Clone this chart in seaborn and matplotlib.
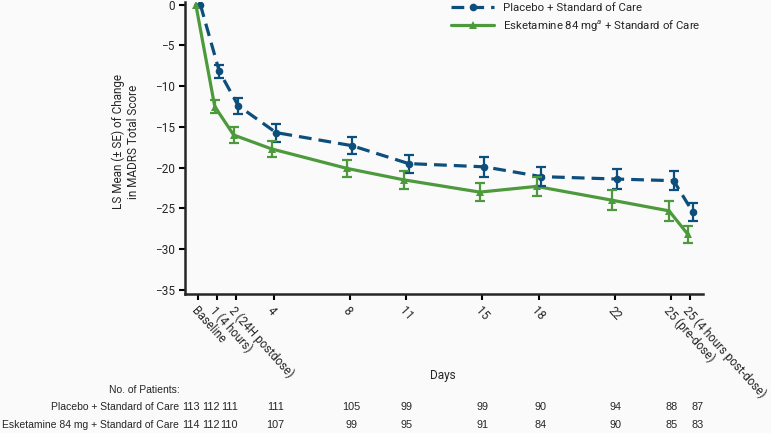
import numpy as np
import pandas as pd
import matplotlib
matplotlib.use("Agg")
import matplotlib.pyplot as plt
import seaborn as sns

# visit positions (days) and labels
days = [0, 1, 2, 4, 8, 11, 15, 18, 22, 25, 26]
tick_labels = ["Baseline", "1 (4 hours)", "2 (24H postdose)", "4", "8", "11",
               "15", "18", "22", "25 (pre-dose)", "25 (4 hours post-dose)"]

# LS mean change and SE
placebo_mean = [0, -8.2, -12.4, -15.7, -17.3, -19.5, -19.9, -21.1, -21.4, -21.6, -25.4]
placebo_se = [0, 0.8, 1.0, 1.1, 1.05, 1.1, 1.2, 1.2, 1.2, 1.2, 1.1]
esk_mean = [0, -12.5, -16.0, -17.7, -20.1, -21.5, -23.0, -22.3, -24.0, -25.3, -28.2]
esk_se = [0, 0.8, 0.95, 1.0, 1.05, 1.1, 1.15, 1.2, 1.2, 1.2, 1.1]

# number of patients per visit
placebo_n = [113, 112, 111, 111, 105, 99, 99, 90, 94, 88, 87]
esk_n = [114, 112, 110, 107, 99, 95, 91, 84, 90, 85, 83]
n_pos = [-0.37, 0.69, 1.64, 4.1, 8.1, 11.0, 15.05, 18.1, 22.05, 25.0, 26.4]

placebo_lbl = "Placebo + Standard of Care"
esk_lbl = r"Esketamine 84 mg$^{a}$ + Standard of Care"
blue = "#0d4f7c"
green = "#4c9a3c"
shift = 0.12
bg = "#fafafa"

sns.set_style("ticks")
plt.rcParams["font.family"] = ["Roboto", "DejaVu Sans"]
plt.rcParams["mathtext.fontset"] = "custom"
plt.rcParams["mathtext.it"] = "Roboto:italic"

df = pd.concat([
    pd.DataFrame({"day": np.array(days) + shift, "mean": placebo_mean,
                  "se": placebo_se, "group": placebo_lbl}),
    pd.DataFrame({"day": np.array(days) - shift, "mean": esk_mean,
                  "se": esk_se, "group": esk_lbl}),
])

fig = plt.figure(figsize=(7.71, 4.33), dpi=100, facecolor=bg)
ax = fig.add_axes([0.240, 0.321, 0.672, 0.674])
ax.set_facecolor(bg)

sns.lineplot(data=df, x="day", y="mean", hue="group", style="group",
             palette={placebo_lbl: blue, esk_lbl: green},
             dashes={placebo_lbl: (4, 2.2), esk_lbl: ""},
             markers={placebo_lbl: "o", esk_lbl: "^"},
             markersize=5.5, markeredgewidth=0, linewidth=2.3, ax=ax)

for lbl, col in [(placebo_lbl, blue), (esk_lbl, green)]:
    sub = df[df["group"] == lbl]
    ax.errorbar(sub["day"][1:], sub["mean"][1:], yerr=sub["se"][1:], fmt="none",
                ecolor=col, elinewidth=1.6, capsize=3.3, capthick=1.6, zorder=3)

ax.set_xlim(-0.69, 26.68)
ax.set_ylim(-35.5, 0.3)
ax.set_yticks(range(-35, 1, 5))
ax.set_xticks(days)
ax.set_xticklabels(tick_labels, rotation=-48, ha="left", va="top",
                   rotation_mode="anchor")
ax.tick_params(axis="both", labelsize=8.5, width=1.5, length=4, color="black")
for s in ["left", "bottom"]:
    ax.spines[s].set_linewidth(1.8)
sns.despine(ax=ax)

ax.set_xlabel("")
ax.set_ylabel("LS Mean (\u00b1 SE) of Change\nin MADRS Total Score", fontsize=8.5)
ax.yaxis.set_label_coords(-0.087, 0.521)
fig.text(443 / 771, 1 - 375 / 433, "Days", fontsize=8.5, ha="center", va="center")

leg = ax.legend(loc="upper right", bbox_to_anchor=(1.0, 1.005), frameon=False,
                fontsize=8.2, handlelength=3.8, handletextpad=0.8,
                borderaxespad=0, borderpad=0.2, labelspacing=0.4)

# patient counts table
trans = ax.get_xaxis_transform()
tfont = ["Liberation Sans", "DejaVu Sans"]
fig.text(180 / 771, 1 - 390 / 433, "No. of Patients:", fontsize=7.5, ha="right",
         va="center", family=tfont)
rows = [(placebo_lbl, placebo_n, 407), ("Esketamine 84 mg + Standard of Care", esk_n, 425)]
for name, counts, ypix in rows:
    yf = 1 - ypix / 433
    fig.text(179 / 771, yf, name, fontsize=7.5, ha="right", va="center", family=tfont)
    ya = (yf - 0.321) / 0.674
    for xp, n in zip(n_pos, counts):
        ax.text(xp, ya, str(n), transform=trans, fontsize=7.8, ha="center",
                va="center", family=tfont, clip_on=False)

fig.savefig("out.png", dpi=100, facecolor=fig.get_facecolor())
